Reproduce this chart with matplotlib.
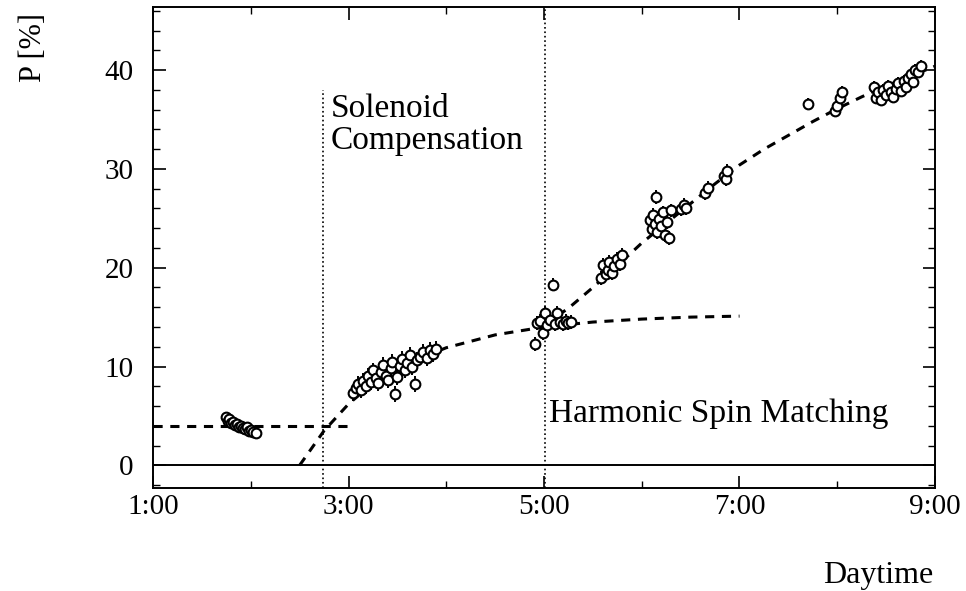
import matplotlib
matplotlib.use('Agg')
import matplotlib.pyplot as plt
import numpy as np

plt.rcParams['font.family'] = ['Liberation Serif', 'DejaVu Serif']

# polarisation measurements (daytime in hours, P in %)
hr_a = [1.75, 1.77, 1.78, 1.80, 1.82, 1.84, 1.86, 1.88, 1.90, 1.92, 1.94, 1.96, 1.98, 2.00, 2.02, 2.05]
p_a = [4.9, 4.5, 4.7, 4.3, 4.4, 4.1, 4.2, 3.9, 4.0, 3.8, 3.7, 3.9, 3.5, 3.6, 3.4, 3.3]

hr_b = [3.05, 3.08, 3.10, 3.13, 3.15, 3.18, 3.20, 3.23, 3.25, 3.28, 3.30, 3.33, 3.35, 3.38, 3.40, 3.43,
        3.45, 3.48, 3.50, 3.53, 3.55, 3.58, 3.60, 3.63, 3.65, 3.68, 3.70, 3.73, 3.76, 3.80, 3.83, 3.86, 3.90]
p_b = [7.3, 7.8, 8.2, 7.6, 8.5, 8.0, 9.0, 8.4, 9.6, 8.8, 8.3, 9.4, 10.2, 9.0, 8.6, 9.8,
       10.5, 7.2, 8.9, 10.1, 10.8, 9.6, 10.4, 11.2, 9.9, 8.2, 10.7, 11.0, 11.5, 10.9, 11.7, 11.3, 11.8]

hr_c = [4.91, 4.93, 4.96, 4.99, 5.01, 5.03, 5.06, 5.09, 5.11, 5.13, 5.16, 5.19, 5.22, 5.25, 5.28]
p_c = [12.3, 14.4, 14.6, 13.4, 15.4, 14.2, 14.7, 18.3, 14.3, 15.4, 14.5, 14.3, 14.6, 14.4, 14.5]

hr_d = [5.58, 5.60, 5.63, 5.65, 5.67, 5.70, 5.72, 5.75, 5.78, 5.80,
        6.08, 6.10, 6.12, 6.14, 6.15, 6.16, 6.18, 6.20, 6.22, 6.24, 6.26, 6.28, 6.30,
        6.40, 6.43, 6.45, 6.65, 6.68, 6.84, 6.86, 6.87]
p_d = [19.0, 20.3, 19.4, 19.8, 20.6, 19.5, 20.2, 20.9, 20.4, 21.3,
       24.8, 23.9, 25.3, 24.4, 27.2, 23.6, 24.9, 24.2, 25.6, 23.3, 24.6, 23.0, 25.8,
       25.9, 26.4, 26.0, 27.6, 28.1, 29.3, 29.0, 29.8]

hr_e = [7.70, 7.98, 8.00, 8.03, 8.05,
        8.38, 8.40, 8.42, 8.45, 8.47, 8.50, 8.52, 8.55, 8.57, 8.60, 8.62, 8.65, 8.68, 8.70,
        8.72, 8.75, 8.78, 8.80, 8.83, 8.86]
p_e = [36.6, 35.9, 36.4, 37.2, 37.8,
       38.3, 37.2, 37.8, 37.0, 38.0, 37.5, 38.4, 37.8, 37.3, 38.1, 38.7, 37.9, 38.9, 38.3,
       39.2, 39.6, 38.8, 40.0, 39.8, 40.4]

# typical error bar half-length per group
errs = [0.35, 0.8, 0.7, 0.7, 0.6]

# fitted curves
fit1_hr = [1.0, 3.0]
fit1_p = [4.0, 4.0]
fit2_hr = [2.5, 2.75, 3.0, 3.25, 3.5, 3.75, 4.0, 4.5, 5.0, 5.5, 6.0, 6.5, 7.0]
fit2_p = [0.0, 3.5, 6.2, 8.3, 9.8, 10.9, 11.9, 13.2, 14.0, 14.5, 14.8, 15.0, 15.1]
fit3_hr = [5.0, 5.25, 5.5, 5.75, 6.0, 6.25, 6.5, 6.75, 7.0, 7.25, 7.5, 7.75, 8.0, 8.25, 8.5, 8.75, 9.0]
fit3_p = [14.2, 15.9, 18.0, 20.2, 22.5, 24.5, 26.5, 28.5, 30.4, 32.0, 33.4, 34.8, 36.1, 37.3, 38.4, 39.4, 40.4]

x_ticks = [1, 3, 5, 7, 9]
x_labels = ['1:00', '3:00', '5:00', '7:00', '9:00']

fig = plt.figure(figsize=(9.66, 5.91), dpi=100)
ax = fig.add_axes([0.1584, 0.1743, 0.8095, 0.8139])

ax.axhline(0, color='black', lw=1.4)
ax.plot([2.74, 2.74], [-2.3, 38.0], color='black', lw=1.2, ls=':')
ax.axvline(5.01, color='black', lw=1.2, ls=':')

for h, p in [(fit1_hr, fit1_p), (fit2_hr, fit2_p), (fit3_hr, fit3_p)]:
    ax.plot(h, p, color='black', lw=2.2, ls=(0, (3, 2.5)))

groups = [(hr_a, p_a), (hr_b, p_b), (hr_c, p_c), (hr_d, p_d), (hr_e, p_e)]
for (h, p), e in zip(groups, errs):
    ax.errorbar(h, p, yerr=np.full(len(h), e), fmt='o', ms=7, mfc='white', mec='black', mew=1.5,
                ecolor='black', elinewidth=1.4, capsize=0)

ax.text(2.82, 37.6, 'Solenoid\nCompensation', fontsize=24, va='top', ha='left', linespacing=1.05)
ax.text(5.05, 5.2, 'Harmonic Spin Matching', fontsize=24, va='center', ha='left')

ax.set_xlim(1, 9)
ax.set_ylim(-2.3, 46.4)
ax.set_xticks(x_ticks)
ax.set_xticklabels(x_labels)
ax.set_xticks(np.arange(1, 9.01, 1), minor=True)
ax.set_yticks([0, 10, 20, 30, 40])
ax.set_yticks(np.arange(-2, 46.1, 2), minor=True)
ax.tick_params(which='both', direction='in', top=True, right=True, labelsize=21)
ax.tick_params(which='major', length=9, width=1.2)
ax.tick_params(which='minor', length=5, width=1.0)
ax.tick_params(axis='y', pad=14)
ax.tick_params(axis='x', pad=4)
for s in ax.spines.values():
    s.set_linewidth(1.4)

fig.text(0.035, 0.92, 'P [%]', rotation=90, fontsize=22, ha='center', va='center')
fig.text(0.966, 0.027, 'Daytime', fontsize=23, ha='right', va='center')

fig.savefig('out.png', dpi=100)
